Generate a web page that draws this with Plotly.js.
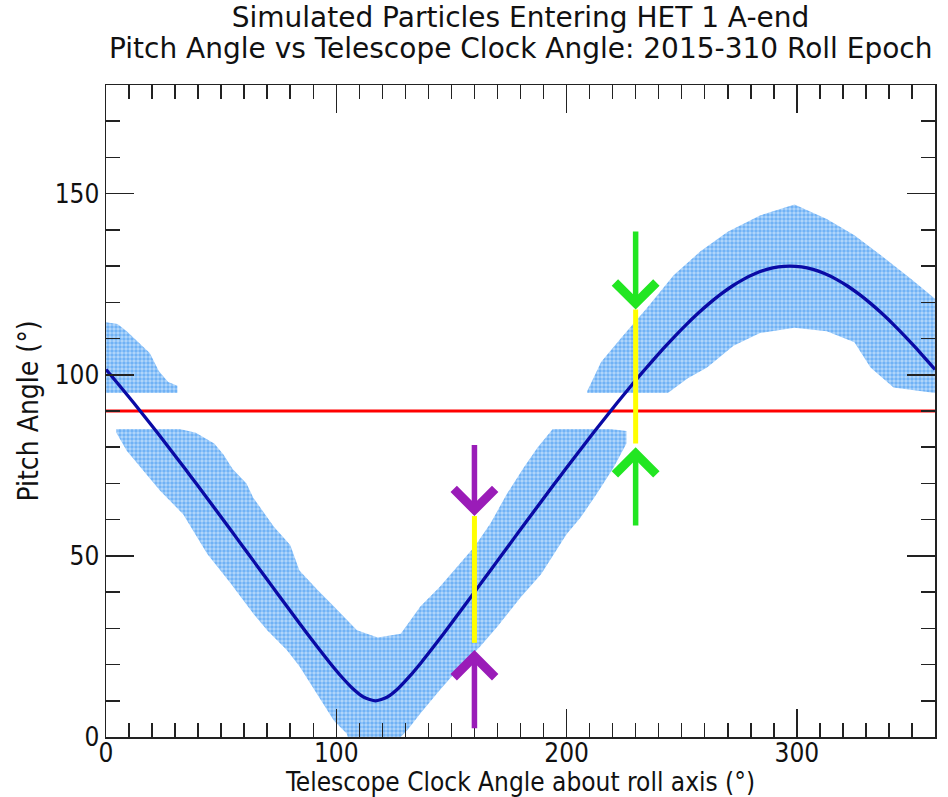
<!DOCTYPE html>
<html>
<head>
<meta charset="utf-8">
<script src="https://cdn.plot.ly/plotly-3.0.1.min.js"></script>
<style>html,body{margin:0;padding:0;background:#fff;}#chart{width:948px;height:797px;}</style>
</head>
<body>
<div id="chart"></div>
<script>
// Model curve: pitch angle vs telescope clock angle
const curveX = [0, 2, 7, 12, 17, 22, 27, 32, 37, 42, 47, 52, 57, 62, 67, 72, 77, 82, 87, 92, 97, 102, 107, 112, 117,
  122, 127, 132, 137, 142, 147, 152, 157, 162, 167, 172, 177, 182, 187, 192, 197, 202, 207, 212, 217, 222, 227, 232,
  237, 242, 247, 252, 257, 262, 267, 272, 277, 282, 287, 292, 297, 302, 307, 312, 317, 322, 327, 332, 337, 342, 347,
  352, 357, 360];
const curveY = [101.45, 99.96, 96.16, 92.27, 88.30, 84.26, 80.15, 76.00, 71.80, 67.56, 63.30, 59.01, 54.70, 50.37, 46.04,
  41.72, 37.40, 33.11, 28.84, 24.69, 20.65, 16.85, 13.48, 10.97, 10.00,
  10.97, 13.48, 16.85, 20.65, 24.69, 28.84, 33.11, 37.40, 41.72, 46.04, 50.37, 54.70, 59.01, 63.30, 67.56, 71.80,
  76.00, 80.15, 84.26, 88.30, 92.27, 96.16, 99.96, 103.64, 107.20, 110.62, 113.86, 116.90, 119.71, 122.26, 124.51,
  126.42, 127.95, 129.08, 129.77, 130.00, 129.77, 129.08, 127.95, 126.42, 124.51, 122.26, 119.71, 116.90, 113.86,
  110.62, 107.20, 103.64, 101.45];

// Outlines of the simulated-particle clouds
const upperLeftX = [0, 5, 9, 14, 19, 23, 27, 31, 31, 0];
const upperLeftY = [114.5, 114, 112, 109, 106, 101, 98, 97, 95, 95];

const lowerX = [4.5, 32, 39, 47, 51, 55, 61, 64, 73, 80, 84, 92, 99, 109, 118, 128, 136.5, 145, 152.5, 160, 167, 174,
  181.5, 187.5, 194, 219, 226,
  226, 220.5, 213, 206, 200, 189, 180, 170, 162.5, 154, 145, 136.5, 131, 128, 105, 104.5, 99, 91.5, 84, 78.5, 70, 64,
  54, 44, 33.5, 23.5, 9, 4.5];
const lowerY = [85, 85, 84, 81, 78, 74, 70, 66, 58, 53, 46, 40.5, 36, 29.5, 27.5, 28.5, 36, 41.5, 47, 52.5, 59, 67,
  74.5, 80, 85, 85, 84.5,
  81, 74.5, 67, 60.5, 56, 45, 38.5, 30.5, 25, 19.5, 13, 6.5, 2, 0, 0, 1, 4.5, 12, 19.5, 24, 29.5, 34,
  42.5, 50.5, 61.5, 68, 79, 84];

const upperRightX = [209, 215, 223.5, 235, 246.5, 258, 270, 284, 299, 313, 325, 336.5, 349.5, 360,
  360, 342, 332, 325, 313, 299, 284, 272.5, 261, 252.5, 244, 209];
const upperRightY = [95.5, 103.5, 110, 118.5, 127.5, 134, 139.5, 144, 147, 143, 138.5, 133, 126.5, 121,
  95, 96.5, 102, 109, 112, 113, 111.5, 108, 102, 99, 95, 95];

// Reference pitch angle
const refX = [0, 360];
const refY = [90, 90];

// Highlighted clock angles: yellow ranges and arrows
const markX = [160, 230];
const markLow = [26, 81];
const markHigh = [61, 118];
const arrowTopTail = [81, 140];
const arrowBottomTip = [24, 80];
const arrowBottomTail = [2, 58];
const arrowColors = ['#9a1cb8', '#22e622'];

const titleLines = ['Simulated Particles Entering HET 1 A-end',
  'Pitch Angle vs Telescope Clock Angle: 2015-310 Roll Epoch'];

const dotColor = '#2a8cf0';
const font = "'DejaVu Sans Condensed', 'DejaVu Sans', sans-serif";
const titleFont = "'DejaVu Sans', sans-serif";

function cloud(xs, ys) {
  return {
    x: xs, y: ys, type: 'scatter', mode: 'lines', fill: 'toself',
    line: {width: 0, color: 'rgba(0,0,0,0)'},
    fillcolor: 'rgba(42,140,240,0.34)',
    fillpattern: {shape: '.', fgcolor: dotColor, size: 4, solidity: 0.6, fillmode: 'overlay', bgcolor: 'rgba(42,140,240,0.34)'},
    hoverinfo: 'skip', showlegend: false
  };
}

const traces = [
  cloud(upperLeftX, upperLeftY),
  cloud(lowerX, lowerY),
  cloud(upperRightX, upperRightY),
  {x: refX, y: refY, type: 'scatter', mode: 'lines', line: {color: '#ff0000', width: 3}, showlegend: false},
  {x: curveX, y: curveY, type: 'scatter', mode: 'lines', line: {color: '#0a0aa5', width: 3.3, shape: 'spline', smoothing: 0.6}, showlegend: false}
];
markX.forEach((mx, i) => {
  traces.push({x: [mx, mx], y: [markLow[i], markHigh[i]], type: 'scatter', mode: 'lines',
    line: {color: '#ffff00', width: 5}, showlegend: false});
});

const annotations = [];
markX.forEach((mx, i) => {
  annotations.push({x: mx, y: markHigh[i], ax: mx, ay: arrowTopTail[i], xref: 'x', yref: 'y', axref: 'x', ayref: 'y',
    text: '', showarrow: true, arrowhead: 4, arrowsize: 1.45, arrowwidth: 5.5, arrowcolor: arrowColors[i]});
  annotations.push({x: mx, y: arrowBottomTip[i], ax: mx, ay: arrowBottomTail[i], xref: 'x', yref: 'y', axref: 'x', ayref: 'y',
    text: '', showarrow: true, arrowhead: 4, arrowsize: 1.45, arrowwidth: 5.5, arrowcolor: arrowColors[i]});
});
// second title line
annotations.push({text: titleLines[1], xref: 'paper', yref: 'paper', x: 0.5, y: 1.0567, xanchor: 'center', yanchor: 'middle',
  showarrow: false, font: {family: titleFont, size: 28, color: '#111'}});

const axisCommon = {
  showgrid: false, zeroline: false, showline: true, linecolor: '#222', linewidth: 1.5, mirror: 'allticks',
  ticks: 'inside', ticklen: 28, tickwidth: 1.5, tickcolor: '#222',
  tickfont: {family: font, size: 26, color: '#111'},
  minor: {ticks: 'inside', ticklen: 14, tickwidth: 1.5, tickcolor: '#222', dtick: 10, showgrid: false}
};

const layout = {
  width: 948, height: 797,
  margin: {l: 106, r: 13, t: 85, b: 60},
  paper_bgcolor: '#fff', plot_bgcolor: '#fff',
  font: {family: font, color: '#111'},
  title: {text: titleLines[0],
    font: {family: titleFont, size: 28, color: '#111'}, x: 0.5, xref: 'paper', xanchor: 'center',
    y: 0.9787, yref: 'container', yanchor: 'middle'},
  xaxis: Object.assign({}, axisCommon, {range: [0, 360], tick0: 0, dtick: 100, ticklabelstandoff: -8,
    title: {text: 'Telescope Clock Angle about roll axis (°)', font: {family: font, size: 26, color: '#111'}, standoff: 6}}),
  yaxis: Object.assign({}, axisCommon, {range: [0, 180], tick0: 0, dtick: 50,
    title: {text: 'Pitch Angle (°)', font: {family: font, size: 28, color: '#111'}, standoff: 8}}),
  annotations: annotations,
  showlegend: false
};

Plotly.newPlot('chart', traces, layout, {staticPlot: true, displayModeBar: false});
</script>
</body>
</html>
